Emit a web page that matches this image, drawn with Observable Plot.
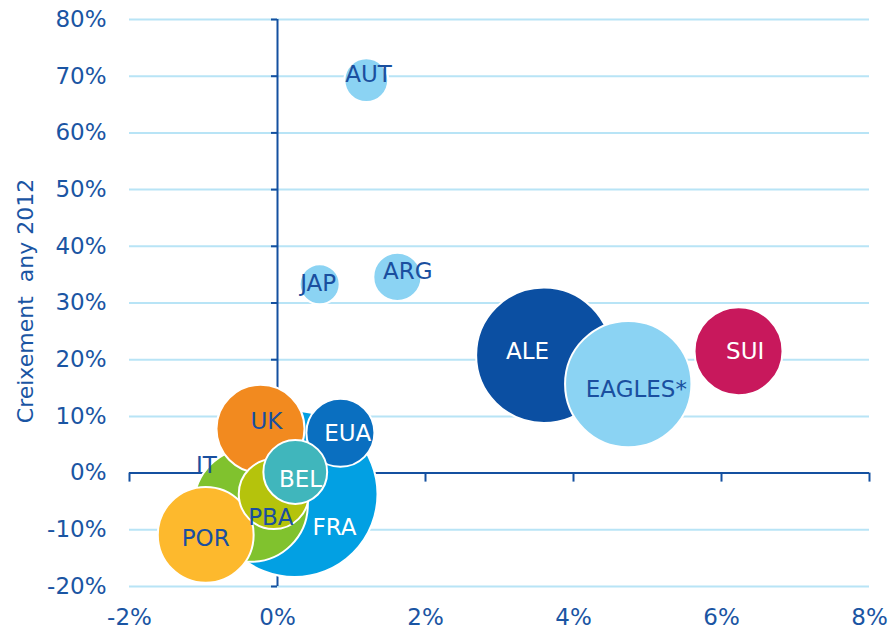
<!DOCTYPE html>
<html>
<head>
<meta charset="utf-8">
<script src="https://cdn.jsdelivr.net/npm/d3@7"></script>
<script src="https://cdn.jsdelivr.net/npm/@observablehq/plot@0.6"></script>
<style>
  html, body { margin: 0; padding: 0; background: #ffffff; }
  #chart svg { display: block; }
</style>
</head>
<body>
<div id="chart"></div>
<script>
// Data (x: growth %, y: "Creixement any 2012" %, size: bubble volume)
const names  = ["AUT", "JAP", "ARG", "ALE", "EAGLES*", "SUI", "FRA", "IT", "UK", "EUA", "PBA", "BEL", "POR"];
const xVals  = [1.2, 0.57, 1.62, 3.6, 4.74, 6.23, 0.23, -0.36, -0.23, 0.85, -0.05, 0.24, -0.97];
const yVals  = [69.3, 33.3, 34.6, 20.8, 15.7, 21.5, -3.7, -5.6, 7.8, 7.1, -3.7, 0.2, -10.9];
const sizes  = [4.8, 4.0, 5.8, 46, 40, 19.4, 69, 32.5, 19.4, 11.6, 12.3, 10.2, 23];
const colors = ["#8bd3f3", "#8bd3f3", "#8bd3f3", "#0b4fa2", "#8bd3f3", "#c8185c", "#02a0e3", "#80c22e", "#f28a1f", "#0a6fc0", "#b5c30c", "#40b6bc", "#fdb92d"];
const labelColors = ["#1a4f9f", "#1a4f9f", "#1a4f9f", "#ffffff", "#1a4f9f", "#ffffff", "#ffffff", "#1a4f9f", "#1a4f9f", "#ffffff", "#1a4f9f", "#ffffff", "#1a4f9f"];
// label anchor positions (data units), as placed in the original
const labelX = [1.23, 0.55, 1.76, 3.38, 4.85, 6.32, 0.77, -0.96, -0.15, 0.95, -0.09, 0.31, -0.97];
const labelY = [70.2, 33.5, 35.6, 21.5, 14.8, 21.5, -9.7, 1.4, 9.0, 6.9, -7.9, -1.1, -11.6];

const xTicks = [-2, 0, 2, 4, 6, 8];
const yTicks = [-20, -10, 0, 10, 20, 30, 40, 50, 60, 70, 80];
const yTitle = "Creixement  any 2012";

const data = names.map((n, i) => ({
  name: n, x: xVals[i], y: yVals[i], size: sizes[i],
  color: colors[i], labelColor: labelColors[i], lx: labelX[i], ly: labelY[i]
}));

const axisColor = "#1450a0";
const gridColor = "#b8e4f6";
const textColor = "#1a55a3";
const font = "'DejaVu Sans', 'Noto Sans', sans-serif";

const chart = Plot.plot({
  width: 891,
  height: 630,
  marginLeft: 129,
  marginRight: 22,
  marginTop: 19,
  marginBottom: 44,
  style: { fontFamily: font, background: "#ffffff", overflow: "visible" },
  x: { domain: [-2, 8], axis: null },
  y: { domain: [-20, 80], axis: null },
  r: { type: "sqrt", domain: [0, 69], range: [0, 83] },
  marks: [
    // gridlines
    Plot.ruleY(yTicks.filter(d => d !== 0), { x1: -2, x2: 8, stroke: gridColor, strokeWidth: 2 }),
    // axis lines
    Plot.ruleY([0], { x1: -2, x2: 8, stroke: axisColor, strokeWidth: 2 }),
    Plot.ruleX([0], { y1: -20, y2: 80, stroke: axisColor, strokeWidth: 2 }),
    // tick marks on the crossing axes
    Plot.ruleY(yTicks, { x1: 0, x2: 0, insetLeft: -6, stroke: axisColor, strokeWidth: 2 }),
    Plot.ruleX(xTicks, { y1: 0, y2: 0, insetBottom: -9, stroke: axisColor, strokeWidth: 2 }),
    // tick labels
    Plot.axisY({ ticks: yTicks, tickSize: 0, tickPadding: 23, tickFormat: d => d + "%", fontSize: 23, color: textColor }),
    Plot.axisX({ ticks: xTicks, tickSize: 0, tickPadding: 22, tickFormat: d => d + "%", fontSize: 23, color: textColor }),
    // y-axis title
    Plot.text([yTitle], { frameAnchor: "left", textAnchor: "middle", lineAnchor: "middle", rotate: -90, dx: -104, dy: -2, fontSize: 22, fill: textColor, style: "white-space: pre" }),
    // bubbles
    Plot.dot(data, { x: "x", y: "y", r: "size", fill: "color", stroke: "#ffffff", strokeWidth: 2, fillOpacity: 1 }),
    // bubble labels
    Plot.text(data, { x: "lx", y: "ly", text: "name", fill: "labelColor", fontSize: 23, textAnchor: "middle", lineAnchor: "middle" })
  ]
});

document.getElementById("chart").appendChild(chart);
</script>
</body>
</html>
